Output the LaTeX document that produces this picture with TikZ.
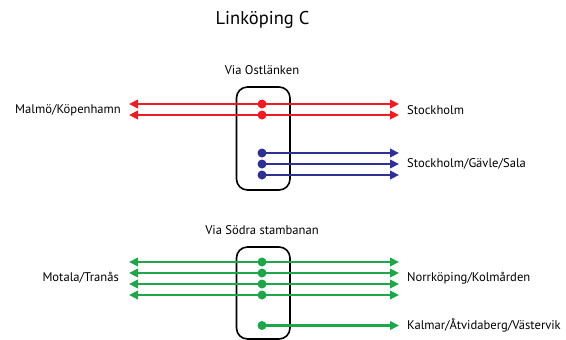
\documentclass[tikz,border=0pt]{standalone}
\usepackage{fontspec}
\setmainfont{PT Sans}
\usetikzlibrary{arrows.meta}
\definecolor{routered}{HTML}{ED1C24}
\definecolor{routeblue}{HTML}{2E3192}
\definecolor{routegreen}{HTML}{1FA64A}
\tikzset{
  platform/.style={draw=black, line width=1.6pt, rounded corners=11pt},
  stop/.style={circle, fill=#1, inner sep=0pt, minimum size=9pt},
  track/.style={draw=#1, line width=2.6pt, -{Triangle[length=9pt,width=8.5pt]}},
  twoway/.style={draw=#1, line width=2.6pt, {Triangle[length=9pt,width=8.5pt]}-{Triangle[length=9pt,width=8.5pt]}},
  place/.style={font=\fontsize{12.6}{14}\selectfont, inner sep=0pt},
  heading/.style={font=\fontsize{12.6}{14}\selectfont, inner sep=0pt},
}
\begin{document}
\begin{tikzpicture}[x=1pt,y=-1pt]
\useasboundingbox (0,0) rectangle (566,340);

\node[font=\fontsize{18.5}{22}\selectfont, inner sep=0pt] (title) at (262.5,20) {Linköping C};

% Ostlänken platform
\node[heading] (hdA) at (262,70) {Via Ostlänken};
\draw[platform] (236.5,87) rectangle (290,190);
\node[stop=routered] (r1) at (262,104) {};
\node[stop=routered] (r2) at (262,115) {};
\node[stop=routeblue] (b1) at (262,153) {};
\node[stop=routeblue] (b2) at (262,164) {};
\node[stop=routeblue] (b3) at (262,175) {};
\foreach \n/\y in {1/104,2/115} {
  \coordinate (rl\n) at (129,\y);
  \coordinate (rr\n) at (399,\y);
  \draw[twoway=routered] (rl\n) -- (rr\n);
}
\foreach \n/\y in {1/153,2/164,3/175} {
  \coordinate (br\n) at (399,\y);
  \draw[track=routeblue] (b\n.center) -- (br\n);
}
\node[place, anchor=east] (malmo) at (121,110) {Malmö/Köpenhamn};
\node[place, anchor=west] (sthlm) at (407,110) {Stockholm};
\node[place, anchor=west] (gavle) at (407,164) {Stockholm/Gävle/Sala};

% Södra stambanan platform
\node[heading] (hdB) at (262,230) {Via Södra stambanan};
\draw[platform] (236.5,247) rectangle (290,339);
\foreach \n/\y in {1/262,2/273,3/284,4/295} {
  \node[stop=routegreen] (g\n) at (262,\y) {};
  \coordinate (gl\n) at (129,\y);
  \coordinate (gr\n) at (399,\y);
  \draw[twoway=routegreen] (gl\n) -- (gr\n);
}
\node[stop=routegreen] (g5) at (262,325.5) {};
\coordinate (gr5) at (399,325.5);
\draw[track=routegreen] (g5.center) -- (gr5);
\node[place, anchor=east] (motala) at (119,278) {Motala/Tranås};
\node[place, anchor=west] (norr) at (407,278) {Norrköping/Kolmården};
\node[place, anchor=west] (kalmar) at (407,325.5) {Kalmar/Åtvidaberg/Västervik};
\end{tikzpicture}
\end{document}
